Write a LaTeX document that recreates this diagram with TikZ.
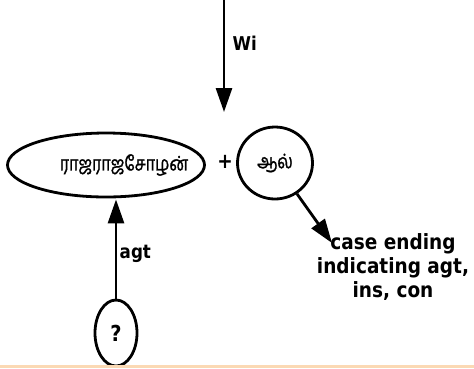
\documentclass[tikz,border=0pt]{standalone}
\usepackage{fontspec}
\setmainfont{DejaVu Sans}[FakeStretch=0.88]
\newfontfamily\tamilfont[Script=Tamil, FakeStretch=0.8, FakeBold=1.2]{Hind Madurai}
\usetikzlibrary{arrows.meta,shapes.geometric}
\definecolor{stripe}{HTML}{FBD9B4}

\begin{document}
\begin{tikzpicture}[x=1pt, y=-1pt,
		word/.style={draw, ellipse, line width=2.8pt, inner sep=0pt},
		tamil/.style={font=\tamilfont\fontsize{20}{22}\selectfont},
		link/.style={line width=2.8pt, -{Triangle[length=24pt,width=16pt]}},
		tag/.style={font=\bfseries\fontsize{19}{22}\selectfont}]
					\useasboundingbox (0,0) rectangle (474,368);
					\node[word, minimum width=197pt, minimum height=64pt, label={[tamil, xshift=18pt]center:ராஜராஜசோழன்}] (R)at(106, 165) {};
					\node[font=\bfseries\fontsize{21}{22}\selectfont] (P)at(225, 162) {+};
					\node[word, tamil, minimum width=75pt, minimum height=72pt] (L)at(275, 163) {ஆல்};
					\node[word, minimum width=42pt, minimum height=66pt] (Q)at(116, 333) {\bfseries\fontsize{22}{24}\selectfont ?};
					\node[font=\bfseries\fontsize{21}{24}\selectfont, align=center] (C)at(393, 267) {case ending\\indicating agt,\\ins, con};
					\coordinate (top)at(224, -2);
					\coordinate (join)at(224, 112);
					\coordinate (caseend)at(332, 243);
					% incoming relation from above
					\draw[link] (top) -- (join) node[tag, pos=0.4, right=4pt] {Wi};
					\draw[link, shorten >=1pt] (Q.north) -- (Q |- R.south) node[tag, pos=0.45, right=-1pt] {agt};
					\draw[link] (L) -- (caseend);
					\fill[stripe] (0,365) rectangle (474,368);
				\end{tikzpicture}
\end{document}
